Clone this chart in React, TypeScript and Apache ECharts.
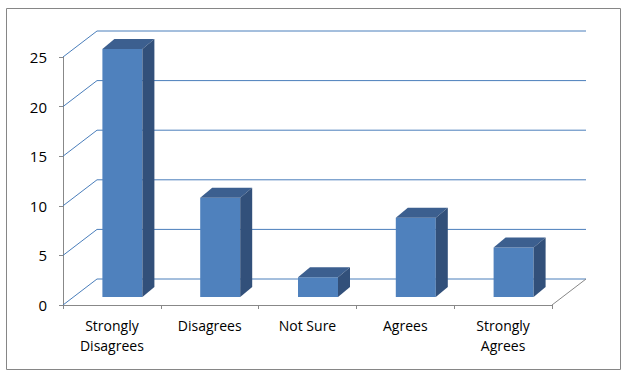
import React, { useEffect, useRef } from "react";
import * as echarts from "echarts";

const categories = ["Strongly\nDisagrees", "Disagrees", "Not Sure", "Agrees", "Strongly\nAgrees"];
const values = [25, 10, 2, 8, 5];
const yTicks = [0, 5, 10, 15, 20, 25];

const DEPTH_X = 34;
const DEPTH_Y = -26;
const BAR_W = 40;
const BAR_SHIFT_X = 10.5;
const BAR_SHIFT_Y = -8;
const BAR_DX = 12;
const BAR_DY = -10;

export default function App() {
  const ref = useRef<HTMLDivElement>(null);
  useEffect(() => {
    if (!ref.current) return;
    const chart = echarts.init(ref.current, undefined, { renderer: "svg" });
    const font = "'Open Sans', 'Liberation Sans', sans-serif";
    chart.setOption({
      animation: false,
      backgroundColor: "#ffffff",
      graphic: [
        {
          type: "rect",
          shape: { x: 6.5, y: 8.5, width: 614, height: 361 },
          style: { fill: "none", stroke: "#868686", lineWidth: 1 },
          z: 0,
        },
      ],
      grid: { left: 63, right: 83, top: 57, bottom: 70 },
      xAxis: {
        type: "category",
        data: categories,
        axisLine: { show: true, lineStyle: { color: "#888888", width: 1 } },
        axisTick: { show: true, length: 4, lineStyle: { color: "#888888" } },
        axisLabel: {
          color: "#000000",
          fontFamily: font,
          fontSize: 14,
          lineHeight: 20,
          margin: 10,
          interval: 0,
        },
        splitLine: { show: false },
      },
      yAxis: {
        type: "value",
        min: 0,
        max: 25,
        interval: 5,
        axisLine: { show: true, lineStyle: { color: "#888888", width: 1 } },
        axisTick: { show: true, length: 4, lineStyle: { color: "#888888" } },
        axisLabel: { color: "#000000", fontFamily: font, fontSize: 15, margin: 16 },
        splitLine: { show: false },
      },
      series: [
        {
          type: "custom",
          name: "walls",
          data: yTicks.map((v) => [0, v]),
          z: 1,
          silent: true,
          renderItem: (params: any, api: any) => {
            const v = api.value(1);
            const c0 = api.coord([0, v]);
            const cN = api.coord([categories.length - 1, v]);
            const half = api.size([1, 0])[0] / 2;
            const x0 = c0[0] - half;
            const x1 = cN[0] + half;
            const y = c0[1];
            const children: any[] = [
              {
                type: "line",
                shape: { x1: x0, y1: y, x2: x0 + DEPTH_X, y2: y + DEPTH_Y },
                style: { stroke: "#4a7ebb", lineWidth: 1 },
              },
              {
                type: "line",
                shape: { x1: x0 + DEPTH_X, y1: y + DEPTH_Y, x2: x1 + DEPTH_X, y2: y + DEPTH_Y },
                style: { stroke: "#4a7ebb", lineWidth: 1 },
              },
            ];
            if (v === 0) {
              children.push({
                type: "line",
                shape: { x1: x1, y1: y, x2: x1 + DEPTH_X, y2: y + DEPTH_Y },
                style: { stroke: "#888888", lineWidth: 1 },
              });
            }
            return { type: "group", children };
          },
        },
        {
          type: "custom",
          name: "bars",
          data: values.map((v, i) => [i, v]),
          z: 2,
          renderItem: (params: any, api: any) => {
            const i = api.value(0);
            const v = api.value(1);
            const top = api.coord([i, v]);
            const base = api.coord([i, 0]);
            const xl = top[0] - BAR_W / 2 + BAR_SHIFT_X;
            const xr = xl + BAR_W;
            const yt = top[1] + BAR_SHIFT_Y;
            const yb = base[1] + BAR_SHIFT_Y;
            return {
              type: "group",
              children: [
                {
                  type: "polygon",
                  shape: { points: [[xl, yt], [xr, yt], [xr, yb], [xl, yb]] },
                  style: { fill: "#4f81bd" },
                },
                {
                  type: "polygon",
                  shape: {
                    points: [
                      [xl, yt],
                      [xl + BAR_DX, yt + BAR_DY],
                      [xr + BAR_DX, yt + BAR_DY],
                      [xr, yt],
                    ],
                  },
                  style: { fill: "#3c5f8f" },
                },
                {
                  type: "polygon",
                  shape: {
                    points: [
                      [xr, yt],
                      [xr + BAR_DX, yt + BAR_DY],
                      [xr + BAR_DX, yb + BAR_DY],
                      [xr, yb],
                    ],
                  },
                  style: { fill: "#32507a" },
                },
              ],
            };
          },
        },
      ],
    });
    return () => chart.dispose();
  }, []);
  return (
    <div
      ref={ref}
      style={{ position: "absolute", left: 0, top: 0, width: 635, height: 375 }}
    />
  );
}
